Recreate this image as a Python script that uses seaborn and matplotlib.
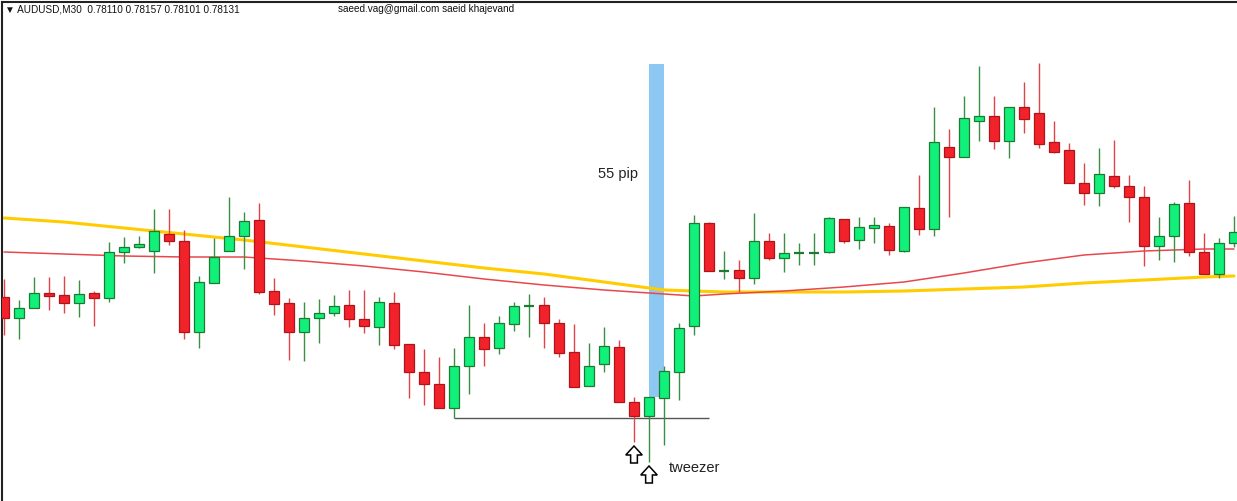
import numpy as np
import pandas as pd
import seaborn as sns
import matplotlib.pyplot as plt
from matplotlib.patches import FancyArrow

# price levels (arbitrary units, higher = higher price)
opens = [204, 183, 193, 208, 206, 198, 208, 203, 249, 254, 250, 267, 260, 169, 218, 250, 265, 281, 210, 198,
         169, 183, 188, 196, 182, 174, 198, 157, 129, 117, 93, 135, 164, 153, 177, 195, 196, 178, 149, 115,
         137, 154, 99, 85, 103, 129, 175, 278, 230, 231, 223, 260, 243, 248, 248, 249, 282, 261, 273, 275,
         250, 293, 272, 354, 344, 380, 385, 360, 394, 388, 359, 351, 318, 308, 325, 315, 304, 255, 265, 298,
         249, 227, 258]
highs = [222, 201, 224, 224, 225, 221, 210, 259, 264, 265, 292, 292, 271, 225, 263, 304, 289, 298, 223, 203,
         199, 202, 206, 211, 211, 204, 209, 157, 152, 144, 153, 196, 178, 185, 199, 207, 204, 182, 177, 158,
         174, 161, 104, 104, 135, 178, 286, 279, 250, 241, 288, 268, 268, 258, 268, 284, 282, 284, 284, 278,
         294, 326, 394, 372, 405, 435, 405, 394, 419, 438, 380, 358, 338, 353, 361, 326, 315, 284, 299, 321,
         268, 263, 285]
lows = [166, 162, 193, 191, 188, 184, 175, 199, 238, 253, 228, 256, 162, 153, 218, 250, 232, 207, 186, 141,
        140, 158, 185, 174, 168, 156, 152, 103, 96, 93, 83, 107, 135, 147, 170, 164, 153, 144, 114, 115,
        129, 99, 59, 39, 56, 101, 166, 230, 222, 209, 217, 241, 229, 236, 236, 248, 258, 252, 258, 246,
        249, 266, 265, 284, 344, 360, 352, 343, 368, 353, 348, 318, 296, 295, 313, 279, 235, 241, 239, 245,
        227, 223, 254]
closes = [183, 193, 208, 205, 198, 207, 203, 249, 254, 257, 270, 260, 169, 219, 244, 265, 280, 209, 197, 169,
          183, 188, 195, 182, 175, 199, 156, 129, 117, 93, 135, 164, 152, 178, 195, 196, 178, 148, 114, 135,
          155, 99, 85, 104, 130, 173, 278, 230, 231, 223, 260, 243, 248, 249, 249, 283, 260, 274, 276, 251,
          294, 272, 359, 344, 383, 385, 360, 394, 382, 357, 349, 318, 308, 327, 315, 304, 255, 265, 297, 249,
          227, 258, 269]

# moving averages, read at a few bars
ma_idx = [0, 4, 8, 12, 16, 20, 24, 28, 32, 36, 40, 44, 46, 48, 52, 56, 60, 64, 68, 72, 76, 80, 82]
ma_red = [249, 247, 245, 244, 244, 240, 235, 229, 222, 216, 211, 207, 205, 207, 210, 214, 219, 228, 238, 246,
          250, 252, 252]
ma_yellow = [283, 279, 273, 267, 261, 254, 247, 240, 233, 227, 219, 211, 210, 209, 209, 209, 210, 212, 214,
             218, 221, 224, 225]

# tweezer bottom candles and the 55 pip move
tweezer_bars = [42, 43]
pip_range = (104, 437)

header = "▼ AUDUSD,M30  0.78110 0.78157 0.78101 0.78131"
author = "saeed.vag@gmail.com saeid khajevand"

df = pd.DataFrame({"open": opens, "high": highs, "low": lows, "close": closes})
df["bar"] = np.arange(len(df))
df["up"] = df["close"] >= df["open"]

ma = pd.DataFrame({"bar": ma_idx, "red": ma_red, "yellow": ma_yellow})

sns.set_theme(style="white")
plt.rcParams['font.family'] = ['Liberation Sans', 'DejaVu Sans']

fig = plt.figure(figsize=(12.37, 5.01), dpi=100)
ax = fig.add_axes([2 / 1237, 0, 1 - 2 / 1237, 499 / 501])

# 55 pip bar (behind the averages)
ax.fill_between([tweezer_bars[1], tweezer_bars[1] + 1], *pip_range, color="#8DC8F2", lw=0, zorder=1)
ax.text(39.6, 327, "55 pip", fontsize=10.5, color="#222222", va="center", ha="left")

# moving averages
sns.lineplot(data=ma, x="bar", y="yellow", color="#FFCC00", lw=2.2, ax=ax, zorder=2)
sns.lineplot(data=ma, x="bar", y="red", color="#E8484C", lw=1.1, ax=ax, zorder=2)

# candles
green_body, green_edge = "#10F07A", "#1E7A30"
red_body, red_edge = "#F2222A", "#B01418"
for _, r in df.iterrows():
    fc = green_body if r["up"] else red_body
    ec = green_edge if r["up"] else red_edge
    wc = "#3A8F45" if r["up"] else "#E04448"
    ax.vlines(r["bar"], r["low"], r["high"], color=wc, lw=1.0, zorder=3)
    lo = min(r["open"], r["close"])
    h = abs(r["close"] - r["open"])
    if h < 1.5:
        ax.hlines(lo + h / 2, r["bar"] - 0.33, r["bar"] + 0.33, color=ec, lw=1.6, zorder=4)
    else:
        ax.bar(r["bar"], h, bottom=lo, width=0.66, color=fc, edgecolor=ec, lw=0.9, zorder=4)

# support line under tweezer
ax.hlines(83, 30, 47, color="#555555", lw=1.0, zorder=2)

# hollow arrows under the two tweezer lows
for b in tweezer_bars:
    tip = df.loc[b, "low"] - 4
    ax.add_patch(FancyArrow(b, tip - 17, 0, 17, width=0.45, head_width=1.1, head_length=9,
                            length_includes_head=True, fc="white", ec="black", lw=1.1, zorder=6))
ax.text(44.3, 33, "tweezer", fontsize=10.5, color="#222222", va="center", ha="left")

ax.set_xlim((2 - 4) / 15, (1237 - 4) / 15)
ax.set_ylim(0, 499)
ax.set_xticks([])
ax.set_yticks([])
ax.set_xlabel("")
ax.set_ylabel("")
for s in ["bottom", "right"]:
    ax.spines[s].set_visible(False)
for s in ["left", "top"]:
    ax.spines[s].set_color("#222222")
    ax.spines[s].set_linewidth(1.5)

fig.text(5 / 1237, 1 - 9 / 501, header, fontsize=7.2, va="center", ha="left", color="#111111")
fig.text(338 / 1237, 1 - 9 / 501, author, fontsize=7.2, va="center", ha="left", color="#111111")

fig.savefig("out.png", dpi=100, facecolor="white")
